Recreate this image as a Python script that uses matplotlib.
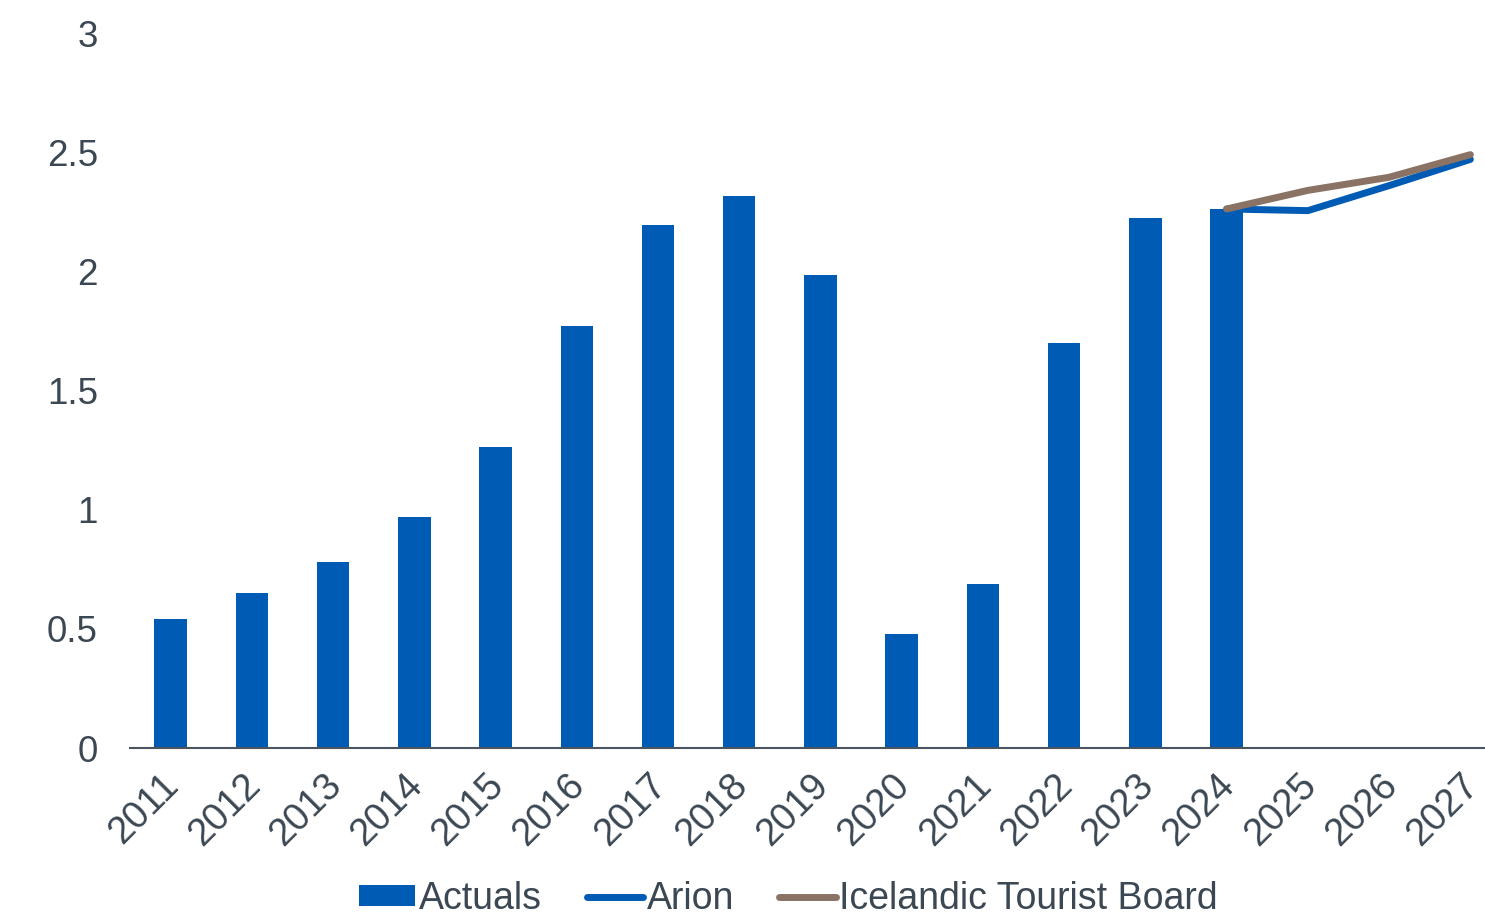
import numpy as np
import matplotlib.pyplot as plt
import matplotlib.transforms as mtransforms

plt.rcParams['font.family'] = ['Liberation Sans', 'DejaVu Sans']

# Data
years = [str(y) for y in range(2011, 2028)]
actuals = [0.54, 0.65, 0.78, 0.97, 1.265, 1.77, 2.195, 2.315, 1.985,
           0.48, 0.69, 1.70, 2.225, 2.262]
arion_years = ['2024', '2025', '2026', '2027']
arion = [2.262, 2.255, 2.36, 2.47]
itb_years = ['2024', '2025', '2026', '2027']
itb = [2.262, 2.34, 2.395, 2.49]

text_col = '#3b4752'
bar_col = '#005bb5'
itb_col = '#8a7265'

fig = plt.figure(figsize=(14.85, 9.19), dpi=100)
# axis runs slightly past the right edge, as in the original
ax = fig.add_axes([0.0875, 0.186, 0.93, 0.778])

x = np.arange(len(years))
ax.bar(x[:len(actuals)], actuals, width=0.4, color=bar_col, label='Actuals', zorder=2)
xa = [years.index(y) for y in arion_years]
xi = [years.index(y) for y in itb_years]
ax.plot(xa, arion, color=bar_col, lw=5, solid_capstyle='round', label='Arion', zorder=3)
ax.plot(xi, itb, color=itb_col, lw=5, solid_capstyle='round',
        label='Icelandic Tourist Board', zorder=4)

ax.set_xlim(-0.5, len(years) - 0.5)
ax.set_ylim(0, 3)
ax.set_yticks([0, 0.5, 1, 1.5, 2, 2.5, 3])
ax.set_yticklabels(['0', '0.5', '1', '1.5', '2', '2.5', '3'])
ax.set_xticks(x)
ax.set_xticklabels(years, rotation=45, ha='right', rotation_mode='anchor')
ax.tick_params(axis='both', length=0, labelsize=26.5, colors=text_col)
ax.tick_params(axis='x', labelsize=27.5, pad=14)
ax.tick_params(axis='y', pad=23)

# nudge the rotated year labels left a little
shift = mtransforms.ScaledTranslation(-10 / 100, 0, fig.dpi_scale_trans)
for lab in ax.get_xticklabels():
    lab.set_transform(lab.get_transform() + shift)

for s in ['top', 'right', 'left']:
    ax.spines[s].set_visible(False)
ax.spines['bottom'].set_color('#4a5560')
ax.spines['bottom'].set_linewidth(1.5)

handles, labels = ax.get_legend_handles_labels()
order = [labels.index('Actuals'), labels.index('Arion'),
         labels.index('Icelandic Tourist Board')]
fig.legend([handles[i] for i in order], [labels[i] for i in order],
           loc='center', bbox_to_anchor=(0.531, 0.022), ncol=3,
           frameon=False, fontsize=27, handlelength=1.5, handleheight=0.5,
           handletextpad=0.1, columnspacing=1.2, labelcolor=text_col,
           borderpad=0)

fig.savefig('out.png', dpi=100)
